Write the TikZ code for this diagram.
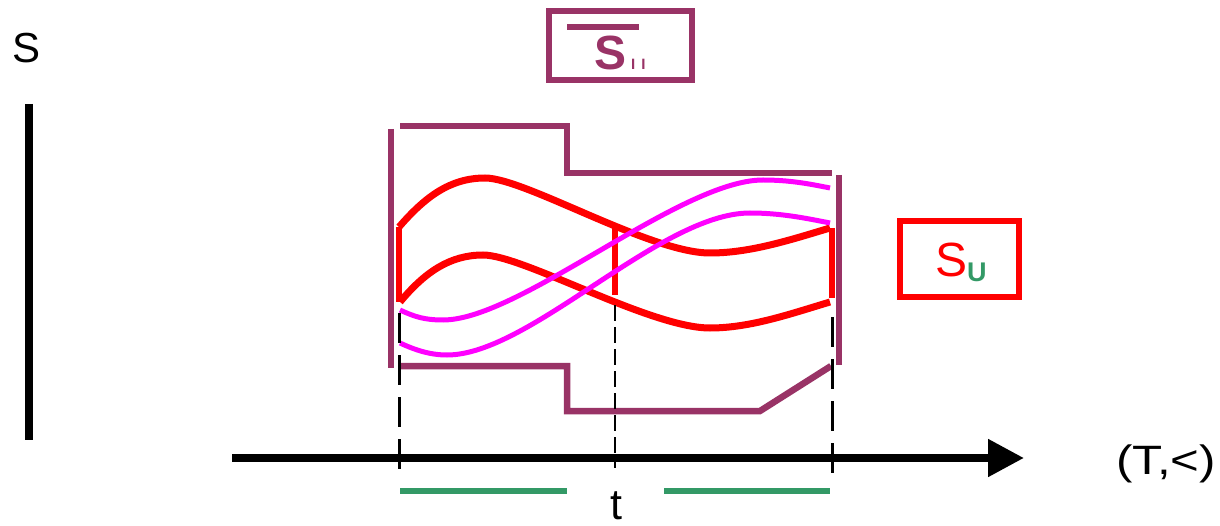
\documentclass[tikz,border=0pt]{standalone}
\usepackage{fontspec}
\setmainfont{Liberation Sans}
\usetikzlibrary{arrows.meta}
\definecolor{plum}{HTML}{993366}
\definecolor{sred}{HTML}{FF0000}
\definecolor{smag}{HTML}{FF00FF}
\definecolor{sgreen}{HTML}{339966}
\tikzset{
  purp/.style={draw=plum,line width=6.5pt},
  redc/.style={draw=sred,line width=7pt},
  magc/.style={draw=smag,line width=5pt},
  redv/.style={draw=sred,line width=6pt},
  dashv/.style={draw=black,line width=3pt,dash pattern=on 30pt off 12pt},
  dashm/.style={draw=black,line width=2pt,dash pattern=on 16pt off 6pt},
  grn/.style={draw=sgreen,line width=6pt},
  axis/.style={draw=black,line width=8pt},
  lbl/.style={inner sep=0pt,anchor=base}
}
\begin{document}
\begin{tikzpicture}[x=1pt,y=-1pt]
\useasboundingbox (0,0) rectangle (1220,526);
% vertical axis
\coordinate (vtop) at (29,104);
\coordinate (vbot) at (29,440);
\draw[line width=7.5pt] (vtop) -- (vbot);
\node[lbl] (S) at (27,63) {\fontsize{42}{42}\selectfont S};
% horizontal axis
\coordinate (h0) at (232,458);
\coordinate (h1) at (1024,458);
\draw[axis,-{Triangle[length=36pt,width=36pt]}] (h0) -- (h1);
\node[lbl,anchor=base west,xscale=1.2] (TL) at (1116,474) {\fontsize{41}{41}\selectfont (T,<)};
% purple envelope
\draw[purp] (391,129) -- (391,368);
\draw[purp] (839,175) -- (839,365);
\draw[purp] (400,126) -- (567,126) -- (567,173) -- (832,173);
\draw[purp] (400,366) -- (567,366) -- (567,411) -- (760,411) -- (831,366);
% red curves
\draw[redc] (399,227) .. controls (425,197) and (450,178) .. (485,178)
  .. controls (525,178) and (650,253) .. (710,253)
  .. controls (750,253) and (790,240) .. (830,228);
\draw[redc] (400,302) .. controls (425,272) and (450,255) .. (483,255)
  .. controls (523,255) and (650,328) .. (710,328)
  .. controls (750,328) and (790,314) .. (830,302);
\draw[redv] (399,227) -- (399,302);
\draw[redv] (615,228) -- (615,295);
\draw[redv] (832,228) -- (832,298);
% magenta curves
\draw[magc] (400,310) .. controls (415,317) and (425,320) .. (443,320)
  .. controls (520,320) and (680,180) .. (763,180)
  .. controls (790,180) and (810,184) .. (830,188);
\draw[magc] (400,343) .. controls (415,350) and (430,355) .. (447,355)
  .. controls (530,355) and (660,213) .. (750,213)
  .. controls (780,213) and (805,218) .. (830,223);
% dashed guides
\draw[dashv] (399,313) -- (399,480);
\draw[dashv] (832,317) -- (832,484);
\draw[dashm] (615,305) -- (615,468);
% green bars
\draw[grn] (400,491) -- (567,491);
\draw[grn] (664,491) -- (830,491);
\node[lbl] (t) at (616,519) {\fontsize{43}{43}\selectfont t};
% S-II box
\node[draw=plum,line width=6pt,minimum width=143pt,minimum height=69pt,inner sep=0pt] (boxII) at (620.5,45.5) {};
\draw[draw=plum,line width=6pt] (567,27) -- (639,27);
\node[lbl,anchor=base west,text=plum] (SII) at (594,70) {\fontsize{48}{48}\selectfont\bfseries S\kern5pt\fontsize{15}{15}\selectfont I\kern6pt I};
% S-U box
\node[draw=sred,line width=6pt,minimum width=119pt,minimum height=76pt,inner sep=0pt] (boxU) at (959.5,259) {};
\node[lbl,anchor=base west] (SU) at (935,277) {\fontsize{48}{48}\selectfont\color{sred}S\raisebox{-5pt}{\fontsize{27}{27}\selectfont\bfseries\color{sgreen}U}};
\end{tikzpicture}
\end{document}
